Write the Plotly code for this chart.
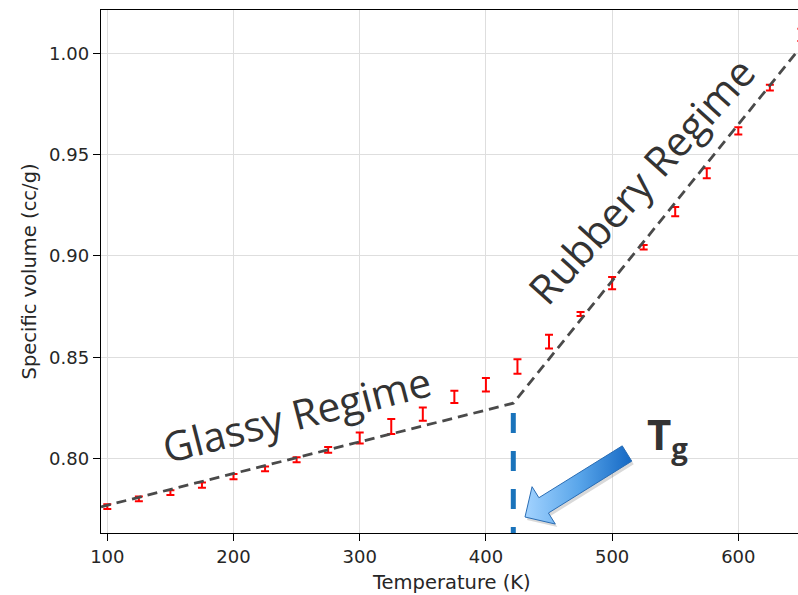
import math
import plotly.graph_objects as go

# ---------------- data ----------------
temperature = [100, 125, 150, 175, 200, 225, 250, 275, 300, 325, 350, 375,
               400, 425, 450, 475, 500, 525, 550, 575, 600, 625, 650]
specific_volume = [0.7764, 0.7802, 0.7833, 0.7870, 0.7912, 0.7950, 0.7995,
                   0.8044, 0.8102, 0.8159, 0.8220, 0.8305, 0.8365, 0.8455,
                   0.8578, 0.8714, 0.8866, 0.9043, 0.9219, 0.9408, 0.9617,
                   0.9830, 1.0090]
volume_error = [0.0012, 0.0012, 0.0012, 0.0013, 0.0013, 0.0012, 0.0012,
                0.0014, 0.0027, 0.0037, 0.0033, 0.0030, 0.0033, 0.0036,
                0.0034, 0.0010, 0.0030, 0.0011, 0.0023, 0.0025, 0.0018,
                0.0014, 0.0030]

# piecewise linear fit (glassy / rubbery) meeting at Tg
fit_T = [95, 421.7, 650]
fit_V = [0.7763, 0.8274, 1.0034]
tg_value = 421.7
tg_line_V = [0.8226, 0.7634]

x_ticks = [100, 200, 300, 400, 500, 600]
y_ticks = [0.80, 0.85, 0.90, 0.95, 1.00]

# ---------------- layout geometry (screenshot pixels) ----------------
FIG_W, FIG_H = 798, 595
PLOT_L, PLOT_T, PLOT_B = 101, 10, 533
L, T, R, B = PLOT_L, PLOT_T, 0, FIG_H - PLOT_B
W = FIG_W - L - R
H = FIG_H - T - B
x_range = [95, 95 + W / 1.262]
y_range = [0.7634, 1.0213]


def px_x(px):
    return x_range[0] + (px - PLOT_L) / W * (x_range[1] - x_range[0])


def px_y(py):
    return y_range[1] - (py - PLOT_T) / H * (y_range[1] - y_range[0])


def paper_x(px):
    return (px - PLOT_L) / W


def paper_y(py):
    return (PLOT_B - py) / H


fig = go.Figure()

# error bars
fig.add_trace(go.Scatter(
    x=temperature, y=specific_volume, mode="markers",
    marker=dict(size=1, color="rgba(0,0,0,0)"),
    error_y=dict(type="data", array=volume_error, visible=True,
                 color="#ff0000", thickness=2, width=4),
    cliponaxis=False, hoverinfo="skip", showlegend=False))

# fit lines
fig.add_trace(go.Scatter(
    x=fit_T, y=fit_V, mode="lines",
    line=dict(color="#4a4a4a", width=2.8, dash="10px,6px"),
    hoverinfo="skip", showlegend=False))

# Tg vertical dashed line
fig.add_trace(go.Scatter(
    x=[tg_value, tg_value], y=tg_line_V, mode="lines",
    line=dict(color="#1a73bb", width=5, dash="20px,18px"),
    hoverinfo="skip", showlegend=False))

# ---------------- block arrow pointing at Tg ----------------
tip = (525.0, 517.0)
tail = (627.0, 453.5)
dx, dy = tip[0] - tail[0], tip[1] - tail[1]
ln = math.hypot(dx, dy)
ux, uy = dx / ln, dy / ln
nx, ny = -uy, ux
shaft_hw, head_hw, head_len = 9.0, 22.0, 22.0
base = (tip[0] - ux * head_len, tip[1] - uy * head_len)
poly = [
    tip,
    (base[0] + nx * head_hw, base[1] + ny * head_hw),
    (base[0] + nx * shaft_hw, base[1] + ny * shaft_hw),
    (tail[0] + nx * shaft_hw, tail[1] + ny * shaft_hw),
    (tail[0] - nx * shaft_hw, tail[1] - ny * shaft_hw),
    (base[0] - nx * shaft_hw, base[1] - ny * shaft_hw),
    (base[0] - nx * head_hw, base[1] - ny * head_hw),
    tip,
]
# shadow
fig.add_trace(go.Scatter(
    x=[px_x(p[0] + 2) for p in poly], y=[px_y(p[1] + 3) for p in poly],
    mode="lines", fill="toself", fillcolor="rgba(0,0,0,0.15)",
    line=dict(width=0, color="rgba(0,0,0,0)"),
    hoverinfo="skip", showlegend=False))
fig.add_trace(go.Scatter(
    x=[px_x(p[0]) for p in poly], y=[px_y(p[1]) for p in poly],
    mode="lines", fill="toself",
    fillgradient=dict(type="horizontal",
                      colorscale=[[0, "#a3d3ff"], [0.5, "#5aa6ea"], [1, "#1468c4"]]),
    line=dict(width=1, color="#2a6db4"),
    hoverinfo="skip", showlegend=False))

# ---------------- text ----------------
anns = [
    dict(text="Glassy Regime", x=paper_x(296), y=paper_y(414), textangle=-14.4,
         font=dict(family="Open Sans", size=41, color="#333333")),
    dict(text="Rubbery Regime", x=paper_x(641), y=paper_y(180), textangle=-48,
         font=dict(family="Open Sans", size=41, color="#333333")),
    dict(text="<b>T<sub>g</sub></b>", x=paper_x(645), y=paper_y(436), xanchor="left",
         font=dict(family="Open Sans", size=42, color="#333333")),
    dict(text="Temperature (K)", x=paper_x(452), y=paper_y(582),
         font=dict(family="DejaVu Sans", size=19.5, color="#262626")),
    dict(text="Specific volume (cc/g)", x=paper_x(28.5), y=paper_y(272), textangle=-90,
         font=dict(family="DejaVu Sans", size=19.5, color="#262626")),
]
for a in anns:
    a.setdefault("xanchor", "center")
    a.setdefault("yanchor", "middle")
    fig.add_annotation(xref="paper", yref="paper", showarrow=False, **a)

axis_common = dict(
    showgrid=True, gridcolor="#dedede", gridwidth=1,
    showline=True, linecolor="black", linewidth=1.4,
    ticks="outside", ticklen=7, tickwidth=1.2, tickcolor="black",
    tickfont=dict(family="DejaVu Sans", size=18, color="#262626"),
    zeroline=False, fixedrange=True,
)
fig.update_xaxes(range=x_range, tickvals=x_ticks, mirror=True, **axis_common)
fig.update_yaxes(range=y_range, tickvals=y_ticks, tickformat=".2f", **axis_common)

fig.update_layout(
    width=FIG_W, height=FIG_H,
    margin=dict(l=L, r=R, t=T, b=B, autoexpand=False),
    plot_bgcolor="white", paper_bgcolor="white",
    showlegend=False,
)

fig.write_html(
    "out.html",
    config={"displayModeBar": False},
    post_script="document.body.style.margin='0';document.body.style.overflow='hidden';",
)
